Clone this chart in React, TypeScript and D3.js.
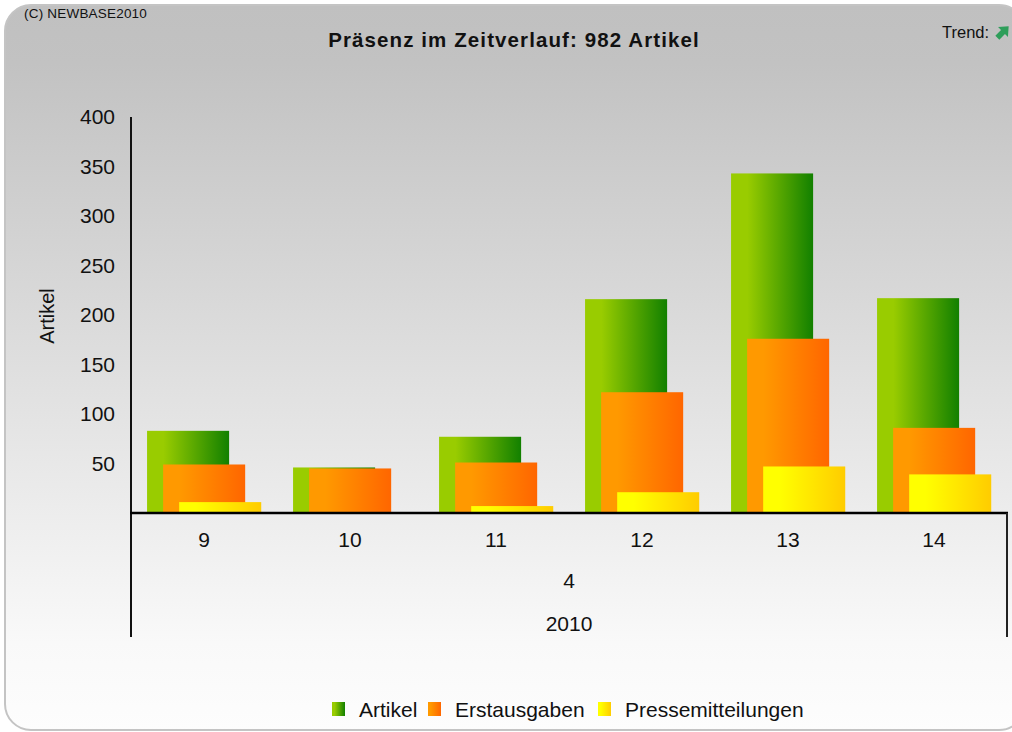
import React from "react";
import * as d3 from "d3";

const width = 1012,
  height = 732;

// Kalenderwochen (Monat 4, Jahr 2010)
const weeks = ["9", "10", "11", "12", "13", "14"];
const seriesNames = ["Artikel", "Erstausgaben", "Pressemitteilungen"];
const artikel = [83, 46, 77, 216, 343, 217];
const erstausgaben = [49, 45, 51, 122, 176, 86];
const pressemitteilungen = [11, 0, 7, 21, 47, 39];
const yTicks = [50, 100, 150, 200, 250, 300, 350, 400];

const seriesValues = [artikel, erstausgaben, pressemitteilungen];
const gradients = [
  ["#99cc00", "#128000"],
  ["#ff9900", "#ff6600"],
  ["#ffff00", "#ffcc00"],
];

const font = "'Liberation Sans', Arial, sans-serif";

export default function App() {
  const x = d3.scaleBand().domain(weeks).range([131, 1007]);
  const y = d3.scaleLinear().domain([0, 400]).range([513, 117]);
  const bw = x.bandwidth();
  const barW = bw * 0.562;
  const step = bw * 0.11;
  const plotMid = (131 + 1007) / 2;

  return (
    <div style={{ position: "absolute", left: 0, top: 0 }}>
      <svg width={width} height={height} style={{ display: "block" }}>
        <defs>
          <linearGradient id="bg" x1="0" y1="0" x2="0" y2="1">
            <stop offset="0" stopColor="#c0c0c0" />
            <stop offset="0.08" stopColor="#c2c2c2" />
            <stop offset="0.88" stopColor="#f9f9f9" />
            <stop offset="1" stopColor="#fdfdfd" />
          </linearGradient>
          {gradients.map((g, i) => (
            <linearGradient key={i} id={"g" + i} x1="0" y1="0" x2="1" y2="0">
              <stop offset="0" stopColor={g[0]} />
              <stop offset="0.2" stopColor={g[0]} />
              <stop offset="1" stopColor={g[1]} />
            </linearGradient>
          ))}
        </defs>

        <rect x={5} y={5} width={1020} height={725} rx={26} ry={26} fill="url(#bg)" stroke="#c4c4c4" strokeWidth={2} />

        <text x={24} y={18} fontFamily={font} fontSize={13.5} letterSpacing={0.2} fill="#111">
          (C) NEWBASE2010
        </text>
        <text x={942} y={38} fontFamily={font} fontSize={16.5} fill="#111">
          Trend:
        </text>
        <g transform="translate(1003,32) rotate(-45)" fill="#2e9e5a">
          <path d="M-8,-2.8 L0,-2.8 L0,-7 L8,0 L0,7 L0,2.8 L-8,2.8 Z" />
        </g>

        <text x={514} y={47} textAnchor="middle" fontFamily={font} fontSize={20.5} fontWeight="bold" letterSpacing={1.1} fill="#111">
          Präsenz im Zeitverlauf: 982 Artikel
        </text>

        {/* Balken */}
        {seriesValues.map((vals, si) => (
          <g key={si}>
            {weeks.map((w, i) =>
              vals[i] > 0 ? (
                <rect
                  key={w}
                  x={(x(w) as number) + step * (si + 1)}
                  y={y(vals[i])}
                  width={barW}
                  height={y(0) - y(vals[i])}
                  fill={`url(#g${si})`}
                />
              ) : null
            )}
          </g>
        ))}

        {/* Achsen */}
        <line x1={131} x2={131} y1={117} y2={637} stroke="#111" strokeWidth={2} />
        <line x1={130} x2={1008} y1={y(0)} y2={y(0)} stroke="#000" strokeWidth={2.5} />
        <line x1={1007} x2={1007} y1={y(0)} y2={637} stroke="#222" strokeWidth={2} />

        {yTicks.map((t) => (
          <text key={t} x={115} y={y(t)} dy="0.35em" textAnchor="end" fontFamily={font} fontSize={21} fill="#111">
            {t}
          </text>
        ))}
        <text transform="translate(54,316) rotate(-90)" textAnchor="middle" fontFamily={font} fontSize={20} fill="#111">
          Artikel
        </text>

        {weeks.map((w) => (
          <text key={w} x={(x(w) as number) + bw / 2} y={540} dy="0.35em" textAnchor="middle" fontFamily={font} fontSize={21} fill="#111">
            {w}
          </text>
        ))}
        <text x={plotMid} y={581} dy="0.35em" textAnchor="middle" fontFamily={font} fontSize={21} fill="#111">
          4
        </text>
        <text x={plotMid} y={624} dy="0.35em" textAnchor="middle" fontFamily={font} fontSize={21} fill="#111">
          2010
        </text>

        {/* Legende */}
        {[
          { x: 332, tx: 359 },
          { x: 428, tx: 455 },
          { x: 598, tx: 625 },
        ].map((l, i) => (
          <g key={i}>
            <rect x={l.x} y={702} width={13} height={14} fill={`url(#g${i})`} />
            <text x={l.tx} y={717} fontFamily={font} fontSize={21} fill="#111">
              {seriesNames[i]}
            </text>
          </g>
        ))}
      </svg>
    </div>
  );
}
